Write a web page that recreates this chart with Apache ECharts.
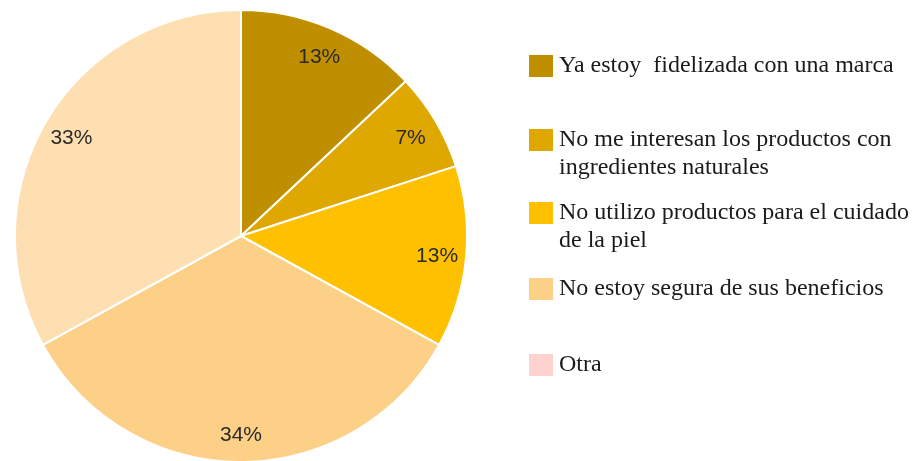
<!DOCTYPE html>
<html>
<head>
<meta charset="utf-8">
<script src="https://cdn.jsdelivr.net/npm/echarts@6/dist/echarts.min.js"></script>
<style>
  html, body { margin: 0; padding: 0; background: #fff; }
  #chart { width: 914px; height: 461px; }
</style>
</head>
<body>
<div id="chart"></div>
<script>
// categories / values
var categories = [
  'Ya estoy  fidelizada con una marca',
  'No me interesan los productos con ingredientes naturales',
  'No utilizo productos para el cuidado de la piel',
  'No estoy segura de sus beneficios',
  'Otra'
];
var legendLabels = [
  'Ya estoy  fidelizada con una marca',
  'No me interesan los productos con\ningredientes naturales',
  'No utilizo productos para el cuidado\nde la piel',
  'No estoy segura de sus beneficios',
  'Otra'
];
var values = [13, 7, 13, 34, 33, 0];
var colors = ['#BF8F00', '#DFA800', '#FFC000', '#FDD088', '#FDDFB2', '#FFD2D0'];

// slice order clockwise from the top: the last one (33%) has no legend entry of its own
var sliceNames = categories.slice(0, 4).concat(['_rest', 'Otra']);

var chart = echarts.init(document.getElementById('chart'));

var pieData = values.map(function (v, i) {
  return { name: sliceNames[i], value: v, itemStyle: { color: colors[i] } };
});

var legendTops = [52, 98, 171, 275, 351];
var legends = categories.map(function (name, i) {
  var twoLines = legendLabels[i].indexOf('\n') >= 0;
  return {
    data: [name],
    left: 527,
    top: legendTops[i],
    orient: 'vertical',
    padding: 0,
    icon: 'rect',
    itemWidth: 26,
    itemHeight: 24,
    selectedMode: false,
    // empty first line keeps the swatch level with the first text line
    formatter: function () { return twoLines ? '\n' + legendLabels[i] : legendLabels[i]; },
    textStyle: {
      fontFamily: 'Liberation Serif',
      fontSize: 24,
      lineHeight: 28,
      color: '#1a1a1a'
    }
  };
});

chart.setOption({
  animation: false,
  legend: legends,
  series: [
    {
      type: 'pie',
      center: [241, 236],
      radius: 226,
      startAngle: 90,
      clockwise: true,
      silent: true,
      label: { show: false },
      labelLine: { show: false },
      itemStyle: { borderColor: '#fff', borderWidth: 2 },
      data: pieData
    },
    {
      // transparent ring only used to put the labels at ~86% of the radius
      type: 'pie',
      center: [241, 238],
      radius: [162, 226],
      startAngle: 90,
      clockwise: true,
      silent: true,
      labelLine: { show: false },
      itemStyle: { color: 'rgba(0,0,0,0)' },
      label: {
        show: true,
        position: 'inside',
        fontFamily: 'Liberation Sans',
        fontSize: 21,
        color: '#2a2a2a',
        formatter: function (p) { return p.value ? p.value + '%' : ''; }
      },
      data: values.map(function (v, i) { return { name: sliceNames[i], value: v }; })
    }
  ]
});
</script>
</body>
</html>
